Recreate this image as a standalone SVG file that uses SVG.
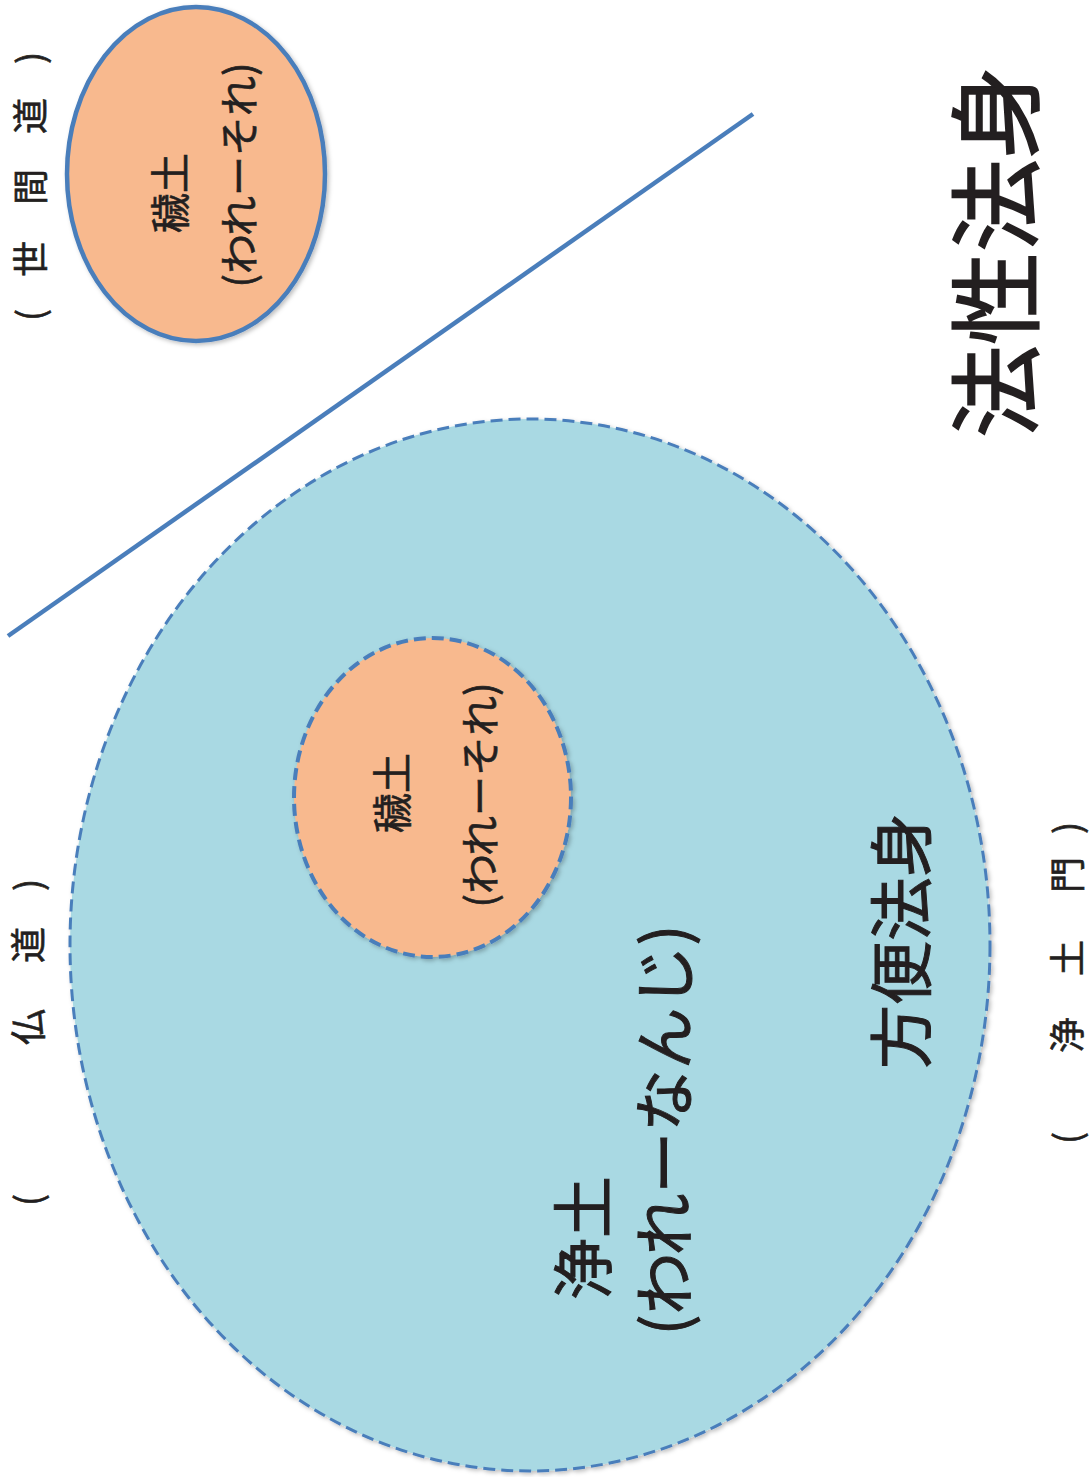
<svg xmlns="http://www.w3.org/2000/svg" width="1089" height="1477" viewBox="0 0 1089 1477">
<style>
.t{font-family:"Noto Sans CJK JP","Noto Sans CJK SC",sans-serif;fill:#231f20;stroke:#231f20;stroke-width:0.6;text-anchor:middle;dominant-baseline:central}
.big{stroke-width:1.6}
.mid{stroke-width:1}
.orange{fill:#f8b98e}
.blue{fill:#a9d9e3}
.solid{stroke:#4a7ebb;stroke-width:4.5}
.dash{stroke:#4a7ebb;stroke-dasharray:12 6}
</style>
<defs>
<filter id="sh" x="-10%" y="-10%" width="120%" height="120%">
<feDropShadow dx="2" dy="2" stdDeviation="2" flood-color="#000" flood-opacity="0.25"/>
</filter>
</defs>
<rect width="1089" height="1477" fill="#ffffff"/>
<g id="connectors">
<line x1="8" y1="636" x2="753" y2="114" class="solid" stroke-width="4"/>
</g>
<g id="big-pureland">
<ellipse cx="530" cy="945" rx="460" ry="526" class="blue dash" stroke-width="3" filter="url(#sh)"/>
<text class="t mid" font-size="62" transform="translate(580,1238) rotate(-90)">浄土</text>
<text class="t mid" font-size="62" transform="translate(661,1130) rotate(-90)">(われーなんじ)</text>
<text class="t mid" font-size="64" transform="translate(897,941) rotate(-90)">方便法身</text>
</g>
<g id="inner-defiled">
<ellipse cx="432.5" cy="797.5" rx="138.5" ry="159.5" class="orange dash" stroke-width="4" filter="url(#sh)"/>
<text class="t" font-size="40" transform="translate(390,793) rotate(-90)">穢土</text>
<text class="t" font-size="40" transform="translate(478,795) rotate(-90)">(われーそれ)</text>
</g>
<g id="top-defiled">
<ellipse cx="196" cy="174" rx="129" ry="167" class="orange solid" filter="url(#sh)"/>
<text class="t" font-size="40" transform="translate(168,193) rotate(-90)">穢土</text>
<text class="t" font-size="40" transform="translate(237,175) rotate(-90)">(われーそれ)</text>
</g>
<g id="label-sekendo">
<text class="t" font-size="36" transform="rotate(-90)" x="-315 -259 -187 -116 -58" y="28">(世間道)</text>
</g>
<g id="label-butsudo">
<text class="t" font-size="36" transform="rotate(-90)" x="-1200 -1027 -945 -885" y="26">(仏道)</text>
</g>
<g id="label-jodomon">
<text class="t" font-size="36" transform="rotate(-90)" x="-1138 -1035 -958 -875 -828" y="1065">(浄土門)</text>
</g>
<g id="label-hossho">
<text class="t big" font-size="93" transform="translate(990,252) rotate(-90)">法性法身</text>
</g>
</svg>
